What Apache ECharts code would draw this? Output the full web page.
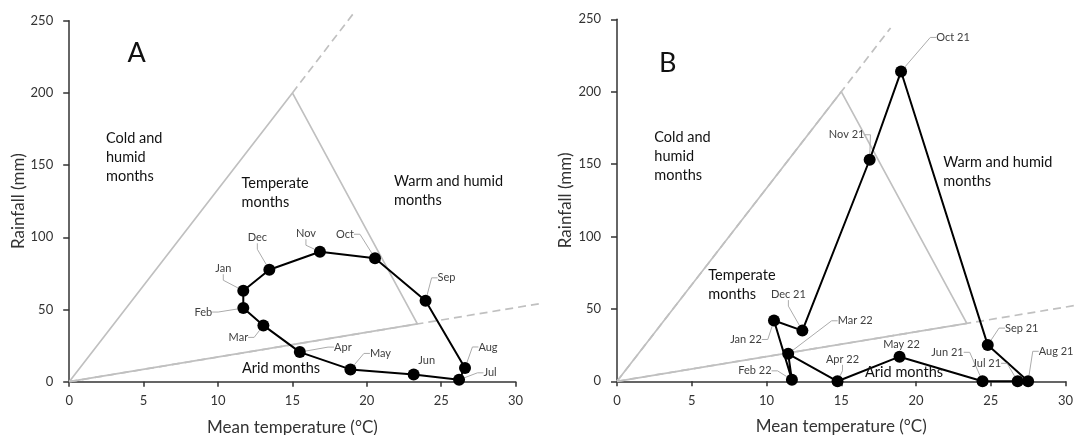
<!DOCTYPE html>
<html><head><meta charset="utf-8">
<script src="https://cdn.jsdelivr.net/npm/echarts@6/dist/echarts.min.js"></script>
<style>html,body{margin:0;padding:0;background:#fff}#c{width:1078px;height:435px}</style>
</head><body><div id="c"></div>
<script>
// ---- data ----
const monthsA = ['Jan','Feb','Mar','Apr','May','Jun','Jul','Aug','Sep','Oct','Nov','Dec'];
const tempA = [11.7, 11.7, 13.05, 15.5, 18.9, 23.15, 26.2, 26.6, 23.95, 20.55, 16.85, 13.45];
const rainA = [63, 51, 39, 20.5, 8.5, 5, 1.3, 9.5, 56, 85.5, 90, 77.5];

const monthsB = ['Jun 21','Jul 21','Aug 21','Sep 21','Oct 21','Nov 21','Dec 21','Jan 22','Feb 22','Mar 22','Apr 22','May 22'];
const tempB = [24.45, 26.8, 27.5, 24.8, 19.0, 16.9, 12.4, 10.5, 11.7, 11.45, 14.75, 18.9];
const rainB = [0, 0, 0, 25, 214, 153, 35, 42, 1, 19, 0, 17];

// climate zone triangle (temperature, rainfall)
const triTemp = [0, 15, 23.4, 0];
const triRain = [0, 200, 40, 0];
const xTicks = [0, 5, 10, 15, 20, 25, 30];
const yTicks = [0, 50, 100, 150, 200, 250];

// ---- label offsets (pixels, styling only) ----
const offA = [[-20,-22],[-40,4],[-25,12],[43,-5],[30,-16],[13,-14],[31,-7],[23,-21],[21,-23],[-30,-24],[-14,-18],[-12,-32]];
const lineA = [1,1,1,1,1,0,1,1,1,1,1,1];
const offB = [[-35,-29],[-31,-18],[28,-30],[34,-17],[52,-34],[-23,-25],[-14,-36],[-28,19],[-37,-9],[67,-33],[5,-22],[2,-12]];
const lineB = [1,1,1,1,1,1,1,1,1,1,1,0];

const FONT = 'Lato';
const GRAY = '#c0c0c0';
const AX = '#333333';
const chart = echarts.init(document.getElementById('c'), null, {renderer:'canvas'});

function pts(t, r){ return t.map((v,i)=>[v, r[i]]); }
function loop(t, r){ const p = pts(t, r); p.push(p[0].slice()); return p; }

function axes(gi){
  const x = {
    type:'value', gridIndex:gi, min:xTicks[0], max:xTicks[xTicks.length-1], interval:5,
    name:'Mean temperature (°C)', nameLocation:'middle', nameGap:37,
    nameTextStyle:{fontFamily:FONT, fontSize:17, color:AX},
    axisLine:{show:true, onZero:false, lineStyle:{color:AX, width:1.5}},
    axisTick:{show:true, length:5, lineStyle:{color:AX, width:1.5}},
    axisLabel:{fontFamily:FONT, fontSize:13, color:AX, margin:13},
    splitLine:{show:false}
  };
  const y = {
    type:'value', gridIndex:gi, min:yTicks[0], max:yTicks[yTicks.length-1], interval:50,
    name:'Rainfall (mm)', nameLocation:'middle', nameGap:42, nameRotate:90,
    nameTextStyle:{fontFamily:FONT, fontSize:17, color:AX},
    axisLine:{show:true, onZero:false, lineStyle:{color:AX, width:1.5}},
    axisTick:{show:true, length:6, lineStyle:{color:AX, width:1.5}},
    axisLabel:{fontFamily:FONT, fontSize:13, color:AX, margin:16},
    splitLine:{show:false}
  };
  return [x, y];
}
function hiddenAxes(gi, xmax){
  return [
    {type:'value', gridIndex:gi, min:0, max:xmax, show:false},
    {type:'value', gridIndex:gi, min:yTicks[0], max:yTicks[yTicks.length-1], show:false}
  ];
}
const [xA, yA] = axes(0);
const [xB, yB] = axes(1);
const [xA2, yA2] = hiddenAxes(2, 32);
const [xB2, yB2] = hiddenAxes(3, 32);

function zoneSeries(gi, extGi, upperFromOrigin, upperEnd, lowerEnd){
  const apex = [triTemp[1], triRain[1]];
  return [
    {type:'line', xAxisIndex:gi, yAxisIndex:gi, data:pts(triTemp, triRain), symbol:'none', silent:true,
      lineStyle:{color:GRAY, width:1.7}, z:1, animation:false},
    {type:'line', xAxisIndex:gi, yAxisIndex:gi, data:[upperFromOrigin ? [0,0] : apex, upperEnd], symbol:'none', silent:true, clip:false,
      lineStyle:{color:GRAY, width:1.7, type:[8,5]}, z:1, animation:false},
    {type:'line', xAxisIndex:extGi, yAxisIndex:extGi, data:[[0,0], lowerEnd], symbol:'none', silent:true, clip:false,
      lineStyle:{color:GRAY, width:1.7, type:[8,5]}, z:1, animation:false}
  ];
}

function dataSeries(gi, t, r, names, offs, showLine){
  return [
    {type:'line', xAxisIndex:gi, yAxisIndex:gi, data:loop(t, r), symbol:'none', silent:true,
      lineStyle:{color:'#000', width:2}, z:3, animation:false},
    {type:'scatter', xAxisIndex:gi, yAxisIndex:gi, symbolSize:12, z:4, animation:false,
      itemStyle:{color:'#000', opacity:1},
      data:pts(t, r).map((p,i)=>({value:p, name:names[i], labelLine:{show:!!showLine[i]}})),
      label:{show:true, position:'inside', formatter:p=>p.name, fontFamily:FONT, fontSize:11, color:'#404040'},
      labelLine:{show:true, length2:6, lineStyle:{color:'#ababab', width:1}},
      labelLayout:(p)=>({dx:offs[p.dataIndex][0], dy:offs[p.dataIndex][1], hideOverlap:false})
    }
  ];
}

function txt(x, y, s, size, lh){
  return {type:'text', left:x, top:y, silent:true, z:10,
    style:{text:s, fontFamily:FONT, fontSize:size||14.5, fill:'#111111', lineHeight:lh||19}};
}

const G = {outerBoundsMode:'none', containLabel:false};
chart.setOption({
  animation:false,
  grid:[
    Object.assign({left:69.2, top:20.7, width:446.4, height:361}, G),
    Object.assign({left:617, top:19.3, width:448.5, height:362}, G),
    Object.assign({left:69.2, top:20.7, width:446.4*32/30, height:361}, G),
    Object.assign({left:617, top:19.3, width:448.5*32/30, height:362}, G)
  ],
  xAxis:[xA, xB, xA2, xB2],
  yAxis:[yA, yB, yA2, yB2],
  series:[
    ...zoneSeries(0, 2, false, [19.1, 255], [31.6, 54]),
    ...zoneSeries(1, 3, true, [18.3, 244], [30.9, 52.8]),
    ...dataSeries(0, tempA, rainA, monthsA, offA, lineA),
    ...dataSeries(1, tempB, rainB, monthsB, offB, lineB)
  ],
  graphic:[
    txt(127.5, 40, 'A', 27, 27),
    txt(106, 129, 'Cold and\nhumid\nmonths'),
    txt(241.5, 174.3, 'Temperate\nmonths'),
    txt(394, 171.7, 'Warm and humid\nmonths'),
    txt(242, 359, 'Arid months'),
    txt(659, 49.5, 'B', 27, 27),
    txt(654.3, 128.3, 'Cold and\nhumid\nmonths'),
    txt(708.3, 265.7, 'Temperate\nmonths'),
    txt(943.3, 153.3, 'Warm and humid\nmonths'),
    txt(865, 363.3, 'Arid months')
  ]
});
</script></body></html>
